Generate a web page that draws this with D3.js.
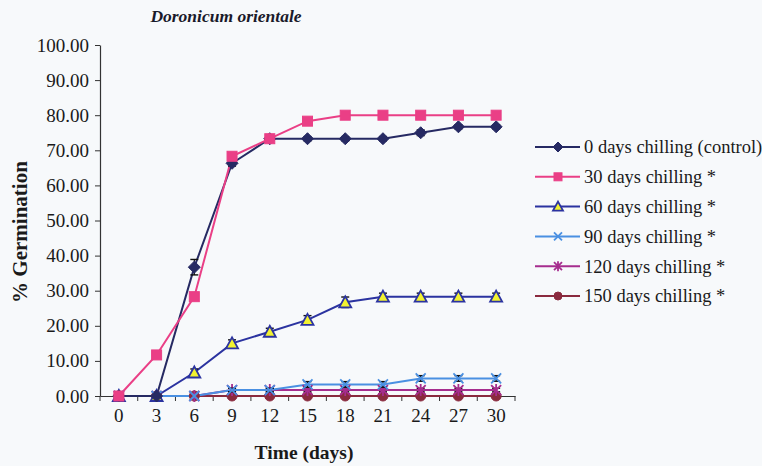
<!DOCTYPE html>
<html><head><meta charset="utf-8">
<script src="https://cdn.jsdelivr.net/npm/d3@7"></script>
<style>
html,body{margin:0;padding:0;background:#f7f9fb;}
svg{display:block;}
</style></head>
<body><svg id="c" width="762" height="466"></svg>
<script>
const days = ["0","3","6","9","12","15","18","21","24","27","30"];
const yTicks = [0,10,20,30,40,50,60,70,80,90,100];
const seriesNames = ["0 days chilling (control)","30 days chilling *","60 days chilling *","90 days chilling *","120 days chilling *","150 days chilling *"];
const control = [0,0,36.7,66.3,73.3,73.3,73.3,73.3,75,76.7,76.7];
const chill30 = [0,11.7,28.3,68.3,73.3,78.3,80,80,80,80,80];
const chill60 = [0,0,6.7,15,18.3,21.7,26.7,28.3,28.3,28.3,28.3];
const chill90 = [0,0,0,1.7,1.7,3.3,3.3,3.3,5,5,5];
const chill120 = [0,0,0,1.7,1.7,1.7,1.7,1.7,1.7,1.7,1.7];
const chill150 = [0,0,0,0,0,0,0,0,0,0,0];
const errControl = [0,0,2.2,0.8,0.5,0.6,0.6,0.6,0.8,0.6,0.6];
const err30 = [0,0.8,0.8,0.8,0.6,0.8,0.6,0.6,0.6,0.6,0.6];
const err60 = [0,0,1,1,1,1.2,1.5,1,1,1,1];
const err90 = [0,0,0,0.5,0.5,0.8,0.8,0.8,0.8,0.8,0.8];
const err120 = [0,0,0,0.5,0.5,0.5,0.5,0.5,0.5,0.5,0.5];
const err150 = [0,0,0,0.5,0.5,0.5,0.5,0.5,0.5,0.5,0.5];

const FONT = "'Liberation Serif', 'Times New Roman', serif";
const series = [
  {name:seriesNames[0], v:control, e:errControl, line:"#262a63", marker:"diamond", fill:"#262a63", stroke:"#262a63"},
  {name:seriesNames[1], v:chill30, e:err30, line:"#ea3f86", marker:"square", fill:"#ea3f86", stroke:"#ea3f86"},
  {name:seriesNames[2], v:chill60, e:err60, line:"#2b33a0", marker:"triangle", fill:"#f2f230", stroke:"#2b33a0"},
  {name:seriesNames[3], v:chill90, e:err90, line:"#4a90e2", marker:"x", fill:"none", stroke:"#4a90e2"},
  {name:seriesNames[4], v:chill120, e:err120, line:"#a62d8e", marker:"star", fill:"none", stroke:"#a62d8e"},
  {name:seriesNames[5], v:chill150, e:err150, line:"#8a2a3e", marker:"circle", fill:"#8a2a3e", stroke:"#8a2a3e"}
];

const svg = d3.select("#c");
const mLeft = 100, mRight = 515, mTop = 45, mBottom = 396;
const x = d3.scaleBand().domain(days).range([mLeft, mRight]);
const y = d3.scaleLinear().domain([0,100]).range([mBottom, mTop]);
const cx = d => x(d) + x.bandwidth()/2;

// y axis
const ya = svg.append("g").attr("transform",`translate(${mLeft},0)`)
  .call(d3.axisLeft(y).tickValues(yTicks).tickFormat(d3.format(".2f")).tickSize(5).tickSizeOuter(0));
ya.select(".domain").attr("stroke","#333").attr("stroke-width",1.2);
ya.selectAll(".tick line").attr("stroke","#333");
ya.selectAll("text").style("font-family",FONT).style("font-size","19px").attr("fill","#1a1a1a").attr("x",-11);

// x axis
const xa = svg.append("g").attr("transform",`translate(0,${mBottom})`)
  .call(d3.axisBottom(x).tickSize(0).tickSizeOuter(0));
xa.select(".domain").attr("stroke","#333").attr("stroke-width",1.2);
xa.selectAll("text").style("font-family",FONT).style("font-size","19px").attr("fill","#1a1a1a").attr("dy","1.2em");
const boundaries = days.map(d => x(d)).concat([mRight]);
svg.append("g").selectAll("line").data(boundaries).join("line")
  .attr("x1",d=>d).attr("x2",d=>d).attr("y1",mBottom).attr("y2",mBottom+5)
  .attr("stroke","#333");

// lines
const lineGen = d3.line().x((v,i)=>cx(days[i])).y(v=>y(v));
const order = [5,4,3,2,0,1];
order.forEach(k=>{
  const s = series[k];
  svg.append("path").datum(s.v).attr("d",lineGen).attr("fill","none")
    .attr("stroke",s.line).attr("stroke-width",2);
});

function drawMarker(g, type, fill, stroke, size){
  const h = size/2;
  if(type==="diamond"){
    g.append("path").attr("d",`M0,${-h-1}L${h+1},0L0,${h+1}L${-h-1},0Z`).attr("fill",fill).attr("stroke",stroke);
  } else if(type==="square"){
    g.append("rect").attr("x",-h).attr("y",-h).attr("width",size).attr("height",size).attr("fill",fill).attr("stroke",stroke);
  } else if(type==="triangle"){
    g.append("path").attr("d",`M0,${-h-1}L${h+1},${h}L${-h-1},${h}Z`).attr("fill",fill).attr("stroke",stroke).attr("stroke-width",1.8);
  } else if(type==="x"){
    g.append("path").attr("d",`M${-h},${-h}L${h},${h}M${-h},${h}L${h},${-h}`).attr("stroke",stroke).attr("stroke-width",1.8);
  } else if(type==="star"){
    g.append("path").attr("d",`M${-h},${-h}L${h},${h}M${-h},${h}L${h},${-h}M0,${-h-1}L0,${h+1}`).attr("stroke",stroke).attr("stroke-width",1.8);
  } else if(type==="circle"){
    g.append("circle").attr("r",h).attr("fill",fill).attr("stroke",stroke);
  }
}

// error bars + markers
order.forEach(k=>{
  const s = series[k];
  const g = svg.append("g");
  s.v.forEach((v,i)=>{
    const e = s.e[i];
    const px = cx(days[i]);
    if(e>0){
      g.append("line").attr("x1",px).attr("x2",px).attr("y1",y(v+e)).attr("y2",y(Math.max(0,v-e))).attr("stroke","#111").attr("stroke-width",1.2);
      [v+e, Math.max(0,v-e)].forEach(t=>{
        g.append("line").attr("x1",px-4).attr("x2",px+4).attr("y1",y(t)).attr("y2",y(t)).attr("stroke","#111").attr("stroke-width",1.4);
      });
    }
    const m = g.append("g").attr("transform",`translate(${px},${y(v)})`);
    drawMarker(m, s.marker, s.fill, s.stroke, 10);
  });
});

// title & labels
svg.append("text").attr("x",226).attr("y",22).attr("text-anchor","middle")
  .style("font-family",FONT).style("font-size","17.5px").attr("font-weight","bold").attr("font-style","italic").attr("fill","#1a1a2a")
  .text("Doronicum orientale");
svg.append("text").attr("x",304).attr("y",459).attr("text-anchor","middle")
  .style("font-family",FONT).style("font-size","19.5px").attr("font-weight","bold").attr("fill","#1a1a1a").text("Time (days)");
svg.append("text").attr("transform","translate(27,232) rotate(-90)").attr("text-anchor","middle")
  .style("font-family",FONT).style("font-size","21px").attr("font-weight","bold").attr("fill","#1a1a1a").text("% Germination");

// legend
const lg = svg.append("g");
series.forEach((s,i)=>{
  const ly = 147 + i*29.8;
  lg.append("line").attr("x1",535).attr("x2",580).attr("y1",ly).attr("y2",ly).attr("stroke",s.line).attr("stroke-width",2);
  const m = lg.append("g").attr("transform",`translate(558,${ly})`);
  drawMarker(m, s.marker, s.fill, s.stroke, 8);
  lg.append("text").attr("x",584).attr("y",ly).attr("dy","0.35em")
    .style("font-family",FONT).style("font-size","18.5px").attr("fill","#1a1a1a").text(s.name);
});
</script></body></html>
